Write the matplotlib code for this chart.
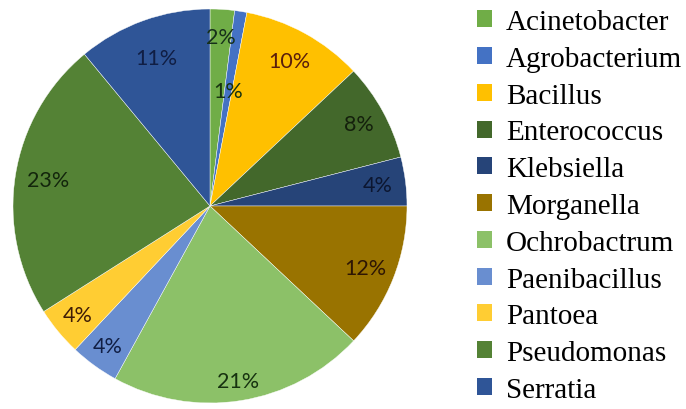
import numpy as np
import matplotlib
matplotlib.use("Agg")
import matplotlib.pyplot as plt
from matplotlib.patches import Patch

# Genus distribution (percent of isolates)
genera = ["Acinetobacter", "Agrobacterium", "Bacillus", "Enterococcus", "Klebsiella",
          "Morganella", "Ochrobactrum", "Paenibacillus", "Pantoea", "Pseudomonas", "Serratia"]
percent = [2, 1, 10, 8, 4, 12, 21, 4, 4, 23, 11]

slice_colors = ["#70AD47", "#4472C4", "#FFC000", "#43682B", "#264478",
                "#997300", "#8CC168", "#698ED0", "#FFCD33", "#548235", "#2F5597"]
label_colors = ["#16301A", "#173210", "#5A1E0C", "#14200C", "#0C1630",
                "#2E1604", "#173210", "#101E44", "#3E1C06", "#13260C", "#101E44"]
# radial position of each percentage label (fraction of the radius)
label_radius = [0.86, 0.59, 0.84, 0.86, 0.86, 0.85, 0.90, 0.88, 0.87, 0.83, 0.80]

W, H = 686, 410
fig = plt.figure(figsize=(W / 100, H / 100), dpi=100)

cx, cy, r = 210, 207, 197
ax = fig.add_axes([(cx - r) / W, (H - cy - r) / H, 2 * r / W, 2 * r / H])

wedges, _ = ax.pie(percent, colors=slice_colors, startangle=90, counterclock=False,
                   radius=1.0, wedgeprops=dict(edgecolor="white", linewidth=0.3))
ax.set_xlim(-1, 1)
ax.set_ylim(-1, 1)
ax.set_aspect("equal")
ax.axis("off")

for w, p, c, lr in zip(wedges, percent, label_colors, label_radius):
    mid = np.deg2rad((w.theta1 + w.theta2) / 2)
    ax.text(lr * np.cos(mid), lr * np.sin(mid), f"{p}%", ha="center", va="center",
            fontsize=15.5, color=c, family="Lato")

handles = [Patch(facecolor=c, edgecolor="none") for c in slice_colors]
fig.legend(handles, genera, loc="upper left", bbox_to_anchor=(477 / W, 1 - 10 / H),
           frameon=False, prop=dict(family="Liberation Serif", size=21),
           handlelength=0.52, handleheight=0.52, handletextpad=0.48,
           labelspacing=0.37, borderpad=0.0, borderaxespad=0.0)

fig.savefig("out.png", dpi=100, facecolor="white")
